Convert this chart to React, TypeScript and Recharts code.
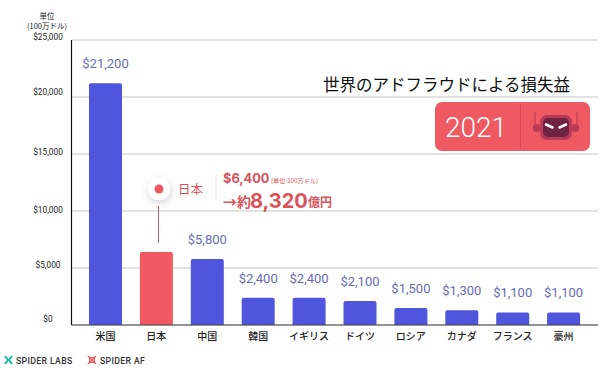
import React from "react";
import { BarChart, Bar, Cell, XAxis, YAxis, CartesianGrid, LabelList } from "recharts";

const countries = ["米国", "日本", "中国", "韓国", "イギリス", "ドイツ", "ロシア", "カナダ", "フランス", "豪州"];
const losses = [21200, 6400, 5800, 2400, 2400, 2100, 1500, 1300, 1100, 1100];
const yTicks = [0, 5000, 10000, 15000, 20000, 25000];
// the source image has its tick labels slightly off the gridlines
const yTickNudge = [-5, -2.5, 0, -1.5, -4.5, -2];

const chartData = countries.map((name, i) => ({ name, loss: losses[i] }));

const JP = '"Noto Sans CJK JP", "Noto Sans", sans-serif';
const LATIN = 'Roboto, "Noto Sans CJK JP", sans-serif';
const BOLD_LATIN = 'Inter, Roboto, sans-serif';
const BLUE = "#4f55dd";
const RED = "#f25a63";
const TEXT_RED = "#d9535b";

const money = (v: number) => "$" + v.toLocaleString("en-US");

function YTick({ y, payload, index }: any) {
  return (
    <text x={48} y={y + yTickNudge[index]} textAnchor="middle" dominantBaseline="middle" fontSize={8.3} fontFamily={LATIN} fill="#222">
      {money(payload.value)}
    </text>
  );
}

function XTick({ x, y, payload }: any) {
  return (
    <text x={x} y={y + 4.5} textAnchor="middle" dominantBaseline="middle" fontSize={10} fontFamily={JP} fontWeight={500} fill="#222">
      {payload.value}
    </text>
  );
}

function Overlay() {
  return (
    <svg width={600} height={390} style={{ position: "absolute", left: 0, top: 0, pointerEvents: "none" }}>
      <defs>
        <filter id="soft" x="-60%" y="-60%" width="220%" height="220%">
          <feDropShadow dx="1" dy="3" stdDeviation="4" floodColor="#000" floodOpacity="0.18" />
        </filter>
      </defs>

      <text x={47} y={19} textAnchor="middle" fontSize={7.5} fontFamily={JP} fill="#222">単位</text>
      <text x={47} y={29} textAnchor="middle" fontSize={7.5} fontFamily={JP} fill="#222">(100万ドル)</text>

      <text x={323} y={91} fontSize={16.5} fontFamily={JP} fill="#111">世界のアドフラウドによる損失益</text>

      <rect x={435} y={102} width={155} height={49} rx={7} fill="#ef5a62" />
      <line x1={520.5} y1={104} x2={520.5} y2={149} stroke="#d9474f" />
      <text x={476} y={137} textAnchor="middle" fontSize={28} fontWeight={300} fontFamily={LATIN} fill="#fff">2021</text>
      <line x1={535} y1={112} x2={535} y2={126} stroke="#a93a52" />
      <line x1={577} y1={112} x2={577} y2={126} stroke="#a93a52" />
      <circle cx={537} cy={128} r={4} fill="#b83a55" />
      <circle cx={575} cy={128} r={4} fill="#b83a55" />
      <rect x={540} y={115} width={32} height={25} rx={7} fill="#b83a55" />
      <rect x={543} y={118} width={26} height={19} rx={5} fill="#6e2244" />
      <path d="M546 124.5 L552.5 127.5 M566 124.5 L559.5 127.5" stroke="#fff" strokeWidth={2.5} strokeLinecap="round" />

      <line x1={158.5} y1={206} x2={158.5} y2={243} stroke="#b8656c" />
      <circle cx={159} cy={189} r={11} fill="#fff" filter="url(#soft)" />
      <circle cx={159} cy={189} r={4.5} fill={RED} />
      <text x={178} y={194} fontSize={12.5} fontFamily={JP} fill={TEXT_RED}>日本</text>
      <line x1={216} y1={175} x2={216} y2={200} stroke="#e4e4e4" />
      <text x={223} y={183} fontSize={12.8} fontWeight={700} fontFamily={BOLD_LATIN} fill={TEXT_RED}>$6,400</text>
      <text x={271} y={183} fontSize={6.2} fontFamily={JP} fill={TEXT_RED}>(単位:100万ドル)</text>
      <text x={223} y={207} fontSize={14} fontWeight={700} fontFamily={JP} fill={TEXT_RED}>→約</text>
      <text x={250} y={208} fontSize={20} fontWeight={700} fontFamily={BOLD_LATIN} fill={TEXT_RED}>8,320</text>
      <text x={308} y={207} fontSize={12} fontWeight={700} fontFamily={JP} fill={TEXT_RED}>億円</text>

      <path d="M5 356 L8 360 L5 364 M12 356 L9 360 L12 364" fill="none" stroke="#1fb89a" strokeWidth={2} />
      <text x={16} y={364} fontSize={8.7} fontWeight={500} fontFamily={LATIN} fill="#333" letterSpacing={0.35}>SPIDER LABS</text>
      <path d="M88 356 L96 364 M96 356 L88 364" stroke="#e2575c" strokeWidth={1.4} />
      <rect x={89.5} y={357.5} width={5} height={5} fill="none" stroke="#e2575c" />
      <text x={100} y={364} fontSize={8.7} fontWeight={500} fontFamily={LATIN} fill="#333" letterSpacing={0.35}>SPIDER AF</text>
    </svg>
  );
}

export default function App() {
  return (
    <div style={{ position: "absolute", left: 0, top: 0, width: 600, height: 390, background: "#fff" }}>
      <BarChart
        width={600}
        height={390}
        data={chartData}
        barSize={33}
        margin={{ top: 40, right: 2, left: 0, bottom: 35 }}
      >
        <CartesianGrid horizontal vertical={false} stroke="#d9d9d9" strokeWidth={1.3} />
        <XAxis
          dataKey="name"
          height={30}
          interval={0}
          padding={{ left: 8.5, right: 9 }}
          tick={<XTick />}
          tickLine={false}
          axisLine={{ stroke: "#444", strokeWidth: 1.2 }}
        />
        <YAxis
          width={71.5}
          domain={[0, 25000]}
          ticks={yTicks}
          tick={<YTick />}
          tickLine={false}
          axisLine={{ stroke: "#111", strokeWidth: 1.2 }}
        />
        <Bar dataKey="loss" radius={[2, 2, 0, 0]} isAnimationActive={false}>
          {chartData.map((d, i) => (
            <Cell key={d.name} fill={i === 1 ? RED : BLUE} />
          ))}
          <LabelList
            dataKey="loss"
            content={(p: any) =>
              p.index === 1 ? null : (
                <text
                  x={p.x + p.width / 2}
                  y={p.y - 15}
                  textAnchor="middle"
                  fontSize={13}
                  fontFamily={LATIN}
                  fill="#6a6cb4"
                >
                  {money(p.value)}
                </text>
              )
            }
          />
        </Bar>
      </BarChart>
      <Overlay />
    </div>
  );
}
